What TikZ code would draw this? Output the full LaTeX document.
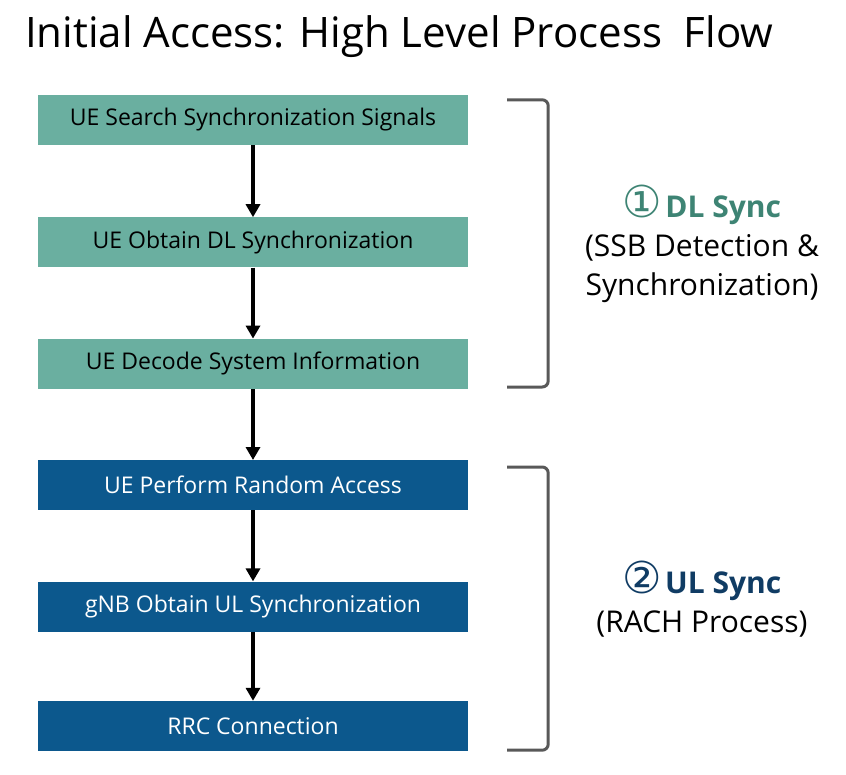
\documentclass[tikz,border=0pt]{standalone}
\usepackage{fontspec}
\setmainfont{Open Sans}
\newfontfamily\symfont{DejaVu Sans}
\usepackage{tikz}
\usetikzlibrary{arrows.meta,positioning,calc}
\definecolor{dlteal}{RGB}{106,175,160}
\definecolor{dltext}{RGB}{62,132,116}
\definecolor{ulblue}{RGB}{12,88,141}
\definecolor{ultext}{RGB}{16,60,100}
\definecolor{brgrey}{RGB}{89,89,89}

\begin{document}
\begin{tikzpicture}[x=1pt, y=-1pt,
    dl/.style={rectangle, fill=dlteal, minimum width=430pt, minimum height=50pt,
               align=center, font=\fontsize{23}{27}\selectfont, text=black},
    ul/.style={rectangle, fill=ulblue, minimum width=430pt, minimum height=50pt,
               align=center, font=\fontsize{23}{27}\selectfont, text=white},
    flow/.style={-{Triangle[width=14pt,length=13pt]}, line width=4pt, black},
    brace/.style={draw=brgrey, line width=3pt, rounded corners=6pt}]
\useasboundingbox (0,0) rectangle (846,774);
% title
\node[anchor=base west, font=\fontsize{42}{48}\selectfont, inner sep=0pt] (title) at (25,47)
  {Initial Access: High Level Process\ \ Flow};

% DL sync steps
\node[dl] (search) at (253,120) {UE Search Synchronization Signals};
\node[dl, below=72pt of search] (dlsync) {UE Obtain DL Synchronization};
\node[dl, below=71pt of dlsync] (sib) {UE Decode System Information};
% UL sync steps
\node[ul, below=71pt of sib] (rach) {UE Perform Random Access};
\node[ul, below=71pt of rach] (ulsync) {gNB Obtain UL Synchronization};
\node[ul, below=69pt of ulsync] (rrc) {RRC Connection};

\draw[flow] (search) -- (dlsync);
\draw[flow] (dlsync) -- (sib);
\draw[flow] (sib) -- (rach);
\draw[flow] (rach) -- (ulsync);
\draw[flow] (ulsync) -- (rrc);

% brackets
\draw[brace] ($(search.north east)+(39,5)$) -| ($(sib.south east)+(80,-2)$) -- ($(sib.south east)+(39,-2)$);
\draw[brace] ($(rach.north east)+(39,7)$) -| ($(rrc.south east)+(80,-1)$) -- ($(rrc.south east)+(39,-1)$);

% labels
\node[align=center, font=\fontsize{30}{39}\selectfont] (dllabel) at (702,249)
  {\textcolor{dltext}{\smash{\symfont\fontsize{44}{44}\selectfont ①}\hspace{3pt}\textbf{DL Sync}}\\(SSB Detection \&\\Synchronization)};
\node[align=center, font=\fontsize{30}{39}\selectfont] (ullabel) at (702,605)
  {\textcolor{ultext}{\smash{\symfont\fontsize{44}{44}\selectfont ②}\hspace{3pt}\textbf{UL Sync}}\\(RACH Process)};
\end{tikzpicture}
\end{document}
